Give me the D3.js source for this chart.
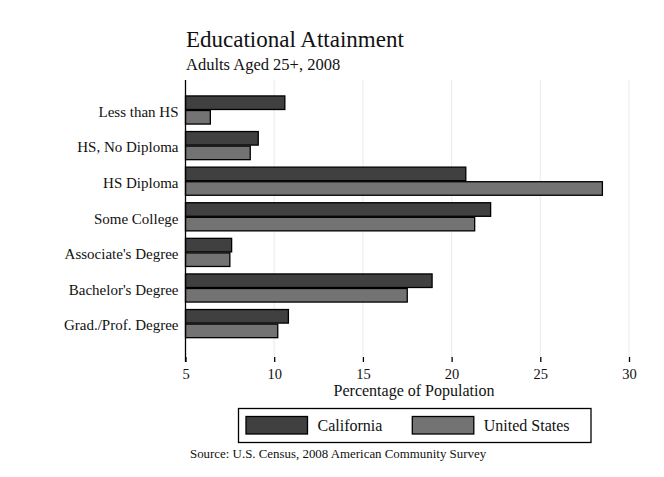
<!DOCTYPE html>
<html><head><meta charset="utf-8">
<script src="https://cdn.jsdelivr.net/npm/d3@7"></script>
<style>body{margin:0;background:#fff}svg{display:block}text{font-family:"Liberation Serif","DejaVu Serif",serif;fill:#111}</style>
</head><body><svg id="c" width="664" height="477"></svg>
<script>
const categories = ["Less than HS","HS, No Diploma","HS Diploma","Some College","Associate's Degree","Bachelor's Degree","Grad./Prof. Degree"];
const seriesNames = ["California","United States"];
const california = [10.6,9.1,20.8,22.2,7.6,18.9,10.8];
const unitedStates = [6.4,8.65,28.5,21.3,7.5,17.5,10.2];
const xTicks = [5,10,15,20,25,30];
const colors = ["#404040","#737373"];

const svg = d3.select("#c");
const x = d3.scaleLinear().domain([5,30]).range([185.5,629]);
const y = d3.scaleBand().domain(categories).range([92.2,341.4]).paddingInner(0.21).paddingOuter(0.105);
const sub = d3.scaleBand().domain(seriesNames).range([0,y.bandwidth()]).paddingInner(0.07);

// gridlines
svg.append("g").selectAll("line").data(xTicks.slice(1)).join("line")
  .attr("x1",d=>x(d)).attr("x2",d=>x(d)).attr("y1",80).attr("y2",357)
  .attr("stroke","#e8f0f1").attr("stroke-width",1.2);

// bars
const rows = categories.map((c,i)=>({c, vals:[california[i],unitedStates[i]]}));
const g = svg.append("g");
rows.forEach(r=>{
  r.vals.forEach((v,j)=>{
    g.append("rect").attr("x",x(5)).attr("y",y(r.c)+sub(seriesNames[j]))
      .attr("width",x(v)-x(5)).attr("height",sub.bandwidth())
      .attr("fill",colors[j]).attr("stroke","#000").attr("stroke-width",1.3);
  });
});

// y axis
const ya = svg.append("g").attr("transform","translate(185.5,0)")
  .call(d3.axisLeft(y).tickSize(0).tickPadding(7));
ya.select(".domain").remove();
ya.selectAll("text").style("font-size","15px").attr("fill","#111").attr("dy","0.45em");
svg.append("line").attr("x1",185.5).attr("x2",185.5).attr("y1",80).attr("y2",362).attr("stroke","#000").attr("stroke-width",1.3);

// x axis
const xa = svg.append("g").attr("transform","translate(0,357)")
  .call(d3.axisBottom(x).tickValues(xTicks).tickSize(5).tickPadding(7));
xa.select(".domain").remove();
xa.selectAll("line").attr("stroke","#000").attr("stroke-width",1.3);
xa.selectAll("text").style("font-size","14.5px").attr("fill","#111");

svg.append("text").attr("x",414).attr("y",396).attr("text-anchor","middle").style("font-size","16px").text("Percentage of Population");

// title
svg.append("text").attr("x",186).attr("y",47).style("font-size","23px").text("Educational Attainment");
svg.append("text").attr("x",186).attr("y",70).style("font-size","16.5px").text("Adults Aged 25+, 2008");

// legend
const lg = svg.append("g");
lg.append("rect").attr("x",238.5).attr("y",408.5).attr("width",352.5).attr("height",34).attr("fill","#fff").attr("stroke","#000").attr("stroke-width",1.3);
const legX = [246,412.3];
seriesNames.forEach((s,j)=>{
  lg.append("rect").attr("x",legX[j]).attr("y",416.5).attr("width",61.5).attr("height",17.5)
    .attr("fill",colors[j]).attr("stroke","#000").attr("stroke-width",1.3);
  lg.append("text").attr("x",legX[j]+71.5).attr("y",431).style("font-size","16px").text(s);
});

svg.append("text").attr("x",190).attr("y",458).style("font-size","12.9px").text("Source: U.S. Census, 2008 American Community Survey");
</script></body></html>
